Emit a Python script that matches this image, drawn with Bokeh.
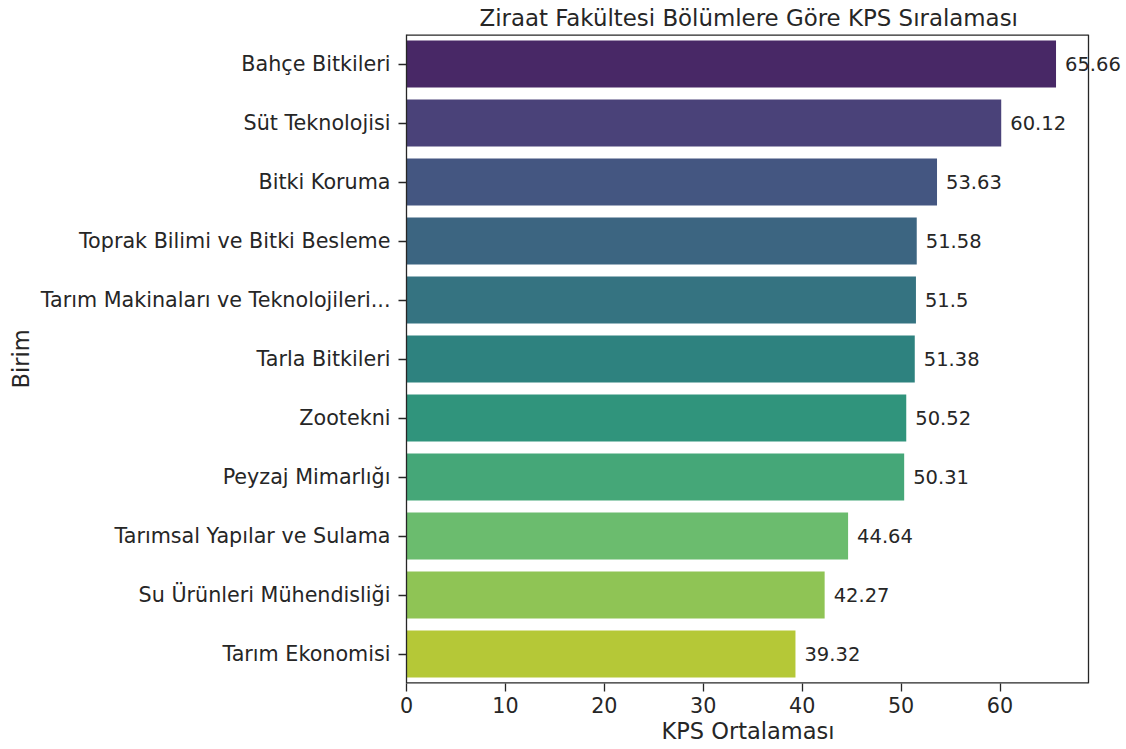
import colorsys
from bokeh.plotting import figure
from bokeh.models import ColumnDataSource, Label, Range1d, FactorRange, FixedTicker, Title
from bokeh.palettes import Viridis256
from bokeh.embed import file_html
from bokeh.resources import INLINE

title_text = "Ziraat  Fakültesi Bölümlere Göre KPS Sıralaması"
x_label = "KPS Ortalaması"
y_label = "Birim"

categories = [
    "Bahçe Bitkileri",
    "Süt Teknolojisi",
    "Bitki Koruma",
    "Toprak Bilimi ve Bitki Besleme",
    "Tarım Makinaları ve Teknolojileri...",
    "Tarla Bitkileri",
    "Zootekni",
    "Peyzaj Mimarlığı",
    "Tarımsal Yapılar ve Sulama",
    "Su Ürünleri Mühendisliği",
    "Tarım Ekonomisi",
]
values = [65.66, 60.12, 53.63, 51.58, 51.5, 51.38, 50.52, 50.31, 44.64, 42.27, 39.32]
x_ticks = [0, 10, 20, 30, 40, 50, 60]


def seaborn_viridis(n, sat=0.75):
    out = []
    for i in range(n):
        x = (i + 1) / (n + 1)
        idx = min(int(x * 256), 255)
        h = Viridis256[idx].lstrip("#")
        r, g, b = (int(h[k:k + 2], 16) / 255 for k in (0, 2, 4))
        hh, ll, ss = colorsys.rgb_to_hls(r, g, b)
        r, g, b = colorsys.hls_to_rgb(hh, ll, ss * sat)
        out.append("#%02x%02x%02x" % (round(r * 255), round(g * 255), round(b * 255)))
    return out


colors = seaborn_viridis(len(categories))
src = ColumnDataSource(dict(cat=categories, val=values, color=colors))

TXT = "#262626"
FONT = "DejaVu Sans"

factors = categories[::-1]
n = len(factors)
x_box = max(values) * 1.05          # matplotlib-style 5% margin: visible axes box end

# The Bokeh frame is widened to the page's right edge so the value label that
# overflows the axes box is not clipped; the axes box itself is drawn below.
W, H = 1124, 745
LEFT, BOX_RIGHT = 406, 1088
x_end = x_box * (W - LEFT) / (BOX_RIGHT - LEFT)

p = figure(
    width=W, height=H,
    y_range=FactorRange(factors=factors),
    x_range=Range1d(0, x_end),
    output_backend="svg", toolbar_location=None,
    min_border_left=LEFT, min_border_right=0,
    min_border_top=34, min_border_bottom=H - 683,
)
p.hbar(y="cat", left=0, right="val", height=0.8, fill_color="color",
       line_color=None, source=src)

# axes box: top/bottom lines sit on the frame edge (half clipped), right line inside
p.segment(x0=[0, 0], y0=[0, n], x1=[x_box, x_box], y1=[0, n],
          line_color=TXT, line_width=2.6)
p.segment(x0=[x_box], y0=[0], x1=[x_box], y1=[n], line_color=TXT, line_width=1.3)

for c, v in zip(categories, values):
    p.add_layout(Label(x=v, y=factors.index(c) + 0.5, text=f"{v:g}", x_offset=9,
                       text_baseline="middle", text_align="left",
                       text_font_size="19.5px", text_font=FONT,
                       text_color=TXT))

p.add_layout(Title(text=title_text, align="left", offset=73, standoff=3,
                   vertical_align="top",
                   text_font=FONT, text_font_size="22.9px", text_font_style="normal",
                   text_color=TXT), "above")
p.add_layout(Title(text=x_label, align="left", offset=255, standoff=0,
                   text_font=FONT, text_font_size="22.5px", text_font_style="normal",
                   text_color=TXT), "below")

p.xgrid.visible = False
p.ygrid.visible = False
p.outline_line_color = None
p.background_fill_color = "white"
p.border_fill_color = "white"

p.xaxis.ticker = FixedTicker(ticks=x_ticks)
p.yaxis.axis_label = y_label
for ax in (p.xaxis[0], p.yaxis[0]):
    ax.axis_label_text_font = FONT
    ax.axis_label_text_font_size = "22.5px"
    ax.axis_label_text_font_style = "normal"
    ax.axis_label_text_color = TXT
    ax.major_label_text_font = FONT
    ax.major_label_text_font_size = "20.7px"
    ax.major_label_text_color = TXT
    ax.axis_line_color = TXT
    ax.axis_line_width = 1.3
    ax.major_tick_line_color = TXT
    ax.major_tick_line_width = 1.3
    ax.major_tick_out = 8
    ax.major_tick_in = 0
    ax.minor_tick_line_color = None
    ax.axis_label_standoff = 4
p.xaxis.axis_line_color = None
p.xaxis.major_label_standoff = 5
p.yaxis.major_label_standoff = 8

open("out.html", "w").write(file_html(p, INLINE))
